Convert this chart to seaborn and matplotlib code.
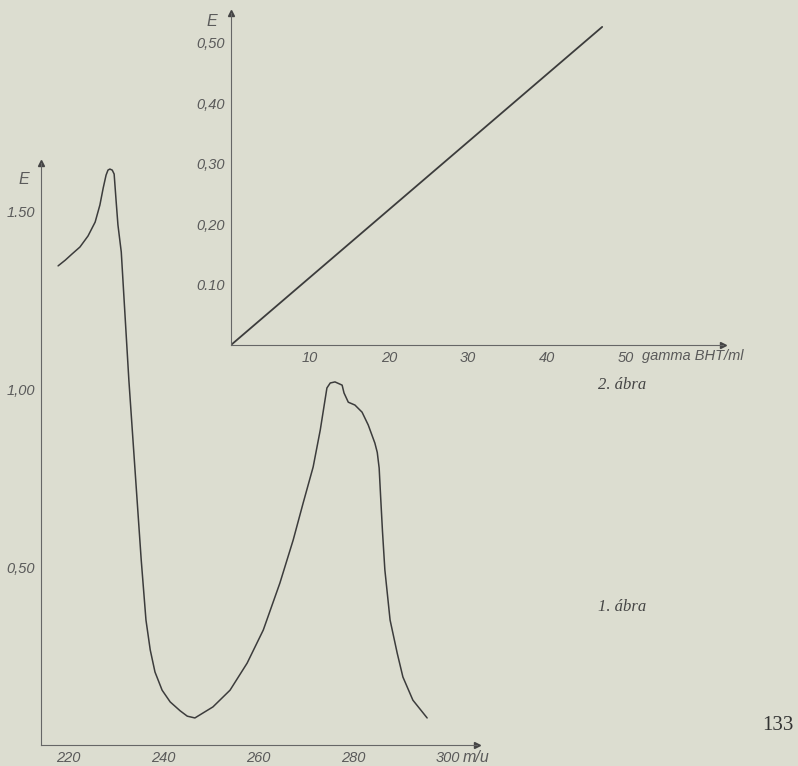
import matplotlib
matplotlib.use("Agg")
import matplotlib.pyplot as plt
import pandas as pd
import seaborn as sns

# 1. abra: UV spectrum (wavelength m/u, extinction E)
wave = [217.9, 219.4, 220.8, 222.5, 224.2, 225.7, 226.7, 227.4, 228.0, 228.4,
        228.8, 229.3, 229.7, 230.1, 230.5, 231.2, 231.8, 232.8, 234.1, 235.4,
        236.4, 237.3, 238.3, 239.8, 241.5, 243.6, 245.1, 246.7, 250.5,
        254.1, 257.7, 261.1, 264.6, 267.4, 269.5, 271.6, 273.1, 274.5, 275.2,
        276.2, 277.7, 278.1, 279.0, 280.4, 281.9, 283.2, 284.6, 285.1, 285.5,
        285.8, 286.2, 286.7, 287.8, 289.3, 290.5, 292.6, 295.6]
ext = [1.346, 1.362, 1.379, 1.399, 1.430, 1.469, 1.517, 1.565, 1.601, 1.615,
       1.618, 1.615, 1.604, 1.531, 1.461, 1.385, 1.250, 1.025, 0.772, 0.520,
       0.351, 0.267, 0.205, 0.154, 0.121, 0.096, 0.081, 0.076, 0.107,
       0.154, 0.230, 0.323, 0.455, 0.576, 0.680, 0.781, 0.885, 1.003, 1.017,
       1.020, 1.011, 0.989, 0.963, 0.955, 0.935, 0.899, 0.848, 0.822, 0.778,
       0.700, 0.600, 0.492, 0.351, 0.258, 0.191, 0.126, 0.076]
wave_ticks = [220, 240, 260, 280, 300]
ext_ticks = [0.5, 1.0, 1.5]
ext_labels = ["0,50", "1,00", "1.50"]

# 2. abra: calibration line (gamma BHT/ml vs E)
conc = [0, 47.0]
ext2 = [0, 0.526]
conc_ticks = [10, 20, 30, 40, 50]
ext2_ticks = [0.1, 0.2, 0.3, 0.4, 0.5]
ext2_labels = ["0.10", "0,20", "0,30", "0,40", "0,50"]

paper = "#dcddd0"
ink = "#3c3c3c"
txt = "#5a5a5a"

sns.set_theme(style="white")
plt.rcParams["font.family"] = ["Liberation Sans", "DejaVu Sans"]

fig = plt.figure(figsize=(7.98, 7.66), dpi=100)
fig.patch.set_facecolor(paper)


def style_axes(ax):
    ax.set_facecolor("none")
    for s in ["top", "right"]:
        ax.spines[s].set_visible(False)
    for s in ["left", "bottom"]:
        ax.spines[s].set_color("#666666")
        ax.spines[s].set_linewidth(0.8)
    ax.tick_params(axis="both", direction="out", length=3, width=0.7, pad=1.5,
                   colors="#666666", labelcolor=txt, labelsize=10.5)
    for lab in ax.get_xticklabels() + ax.get_yticklabels():
        lab.set_fontstyle("italic")
    # arrow heads at the axis ends
    ax.plot(1, 0, marker=">", color="#444444", markersize=5,
            transform=ax.transAxes, clip_on=False)
    ax.plot(0, 1, marker="^", color="#444444", markersize=5,
            transform=ax.transAxes, clip_on=False)
    ax.set_xlabel("")
    ax.set_ylabel("")


# first chart
ax1 = fig.add_axes([41 / 798, 21 / 766, 436 / 798, 582 / 766])
df1 = pd.DataFrame({"wave": wave, "E": ext})
sns.lineplot(data=df1, x="wave", y="E", sort=False, estimator=None,
             color=ink, linewidth=1.1, ax=ax1)
ax1.set_xlim(214.3, 306.1)
ax1.set_ylim(0, 1.635)
ax1.set_xticks(wave_ticks)
ax1.set_xticklabels([str(t) for t in wave_ticks])
ax1.set_yticks(ext_ticks)
ax1.set_yticklabels(ext_labels)
style_axes(ax1)
fig.text(24 / 798, 1 - 179 / 766, "E", ha="center", va="center",
         fontsize=11.5, style="italic", color=txt)
fig.text(463 / 798, 1 - 757 / 766, "m/u", ha="left", va="center",
         fontsize=11.5, style="italic", color=txt)

# second chart
ax2 = fig.add_axes([231 / 798, 421 / 766, 492 / 798, 332 / 766])
df2 = pd.DataFrame({"conc": conc, "E": ext2})
sns.lineplot(data=df2, x="conc", y="E", sort=False, estimator=None,
             color=ink, linewidth=1.3, ax=ax2)
ax2.set_xlim(0, 62.3)
ax2.set_ylim(0, 0.549)
ax2.set_xticks(conc_ticks)
ax2.set_xticklabels([str(t) for t in conc_ticks])
ax2.set_yticks(ext2_ticks)
ax2.set_yticklabels(ext2_labels)
style_axes(ax2)
fig.text(212 / 798, 1 - 22 / 766, "E", ha="center", va="center",
         fontsize=11.5, style="italic", color=txt)
fig.text(642 / 798, 1 - 356 / 766, "gamma BHT/ml", ha="left", va="center",
         fontsize=10.5, style="italic", color=txt)

# captions and page number
fig.text(598 / 798, 1 - 385 / 766, "2. ábra", family="Liberation Serif",
         style="italic", fontsize=12, color="#444444", va="center")
fig.text(598 / 798, 1 - 607 / 766, "1. ábra", family="Liberation Serif",
         style="italic", fontsize=12, color="#444444", va="center")
fig.text(762 / 798, 1 - 726 / 766, "133", family="Liberation Serif",
         fontsize=15, color="#333333", va="center")

fig.savefig("out.png", dpi=100, facecolor=paper)
